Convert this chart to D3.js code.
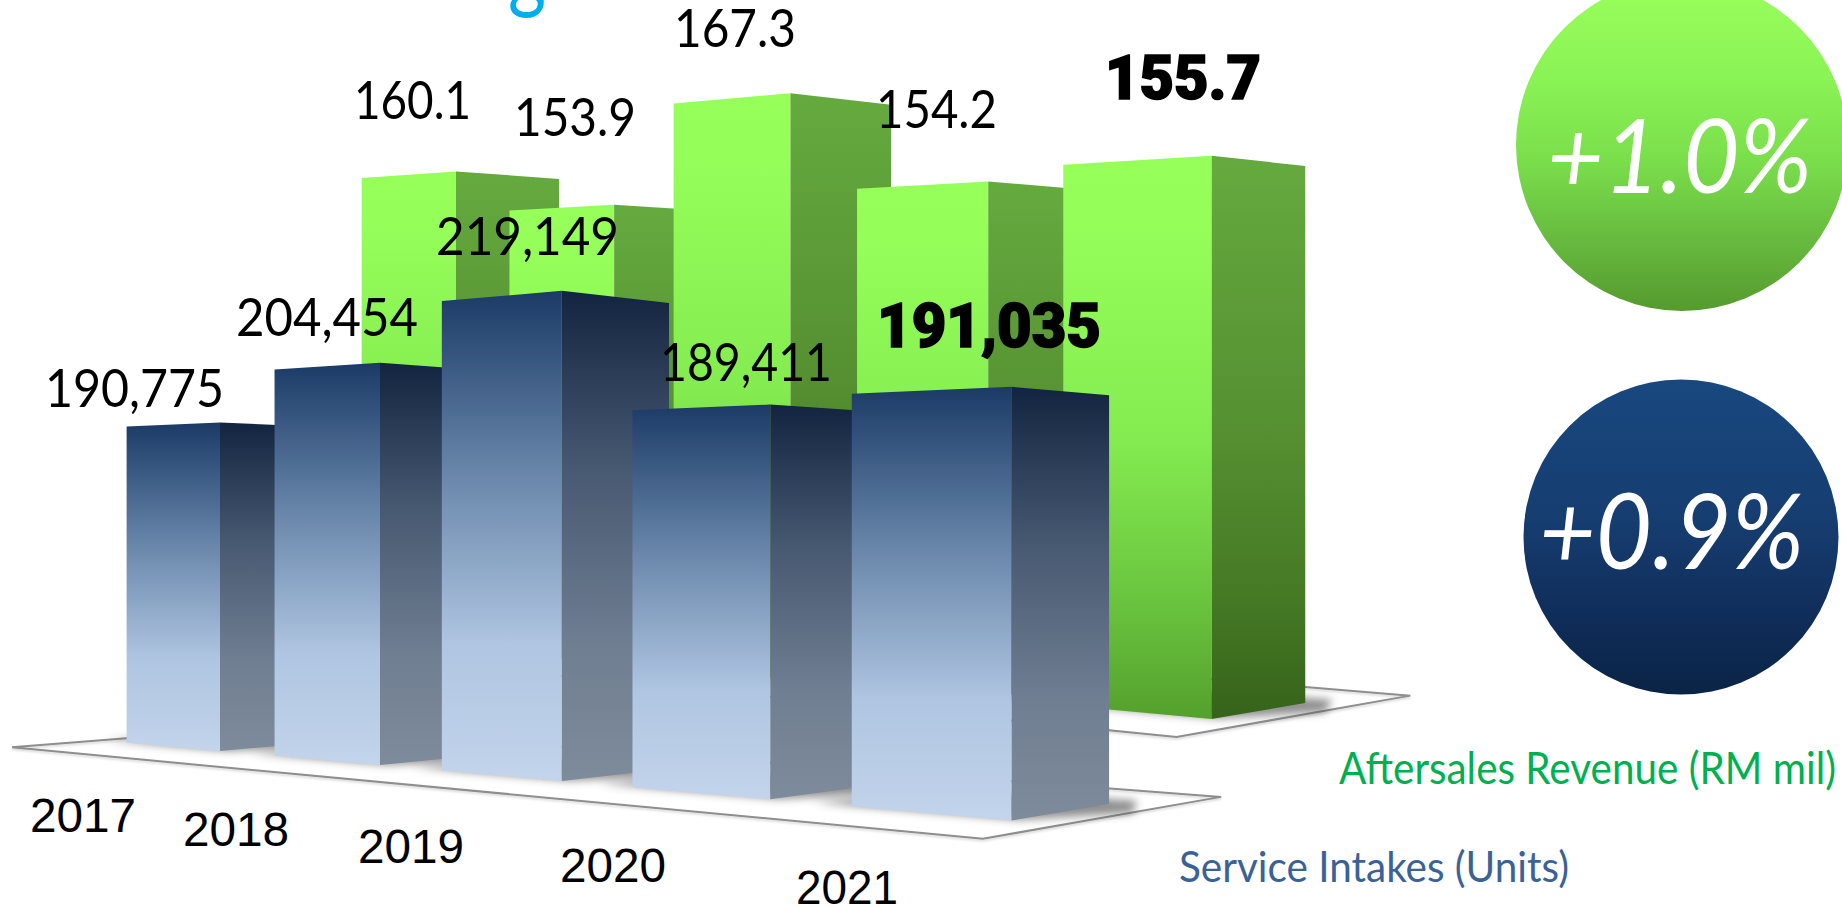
<!DOCTYPE html>
<html>
<head>
<meta charset="utf-8">
<title>Service intakes and aftersales revenue</title>
<script src="https://cdn.jsdelivr.net/npm/d3@7/dist/d3.min.js"></script>
<style>
  html, body { margin: 0; padding: 0; background: #fff; overflow: hidden; }
  svg { display: block; }
</style>
</head>
<body>
<svg id="chart" width="1842" height="908"></svg>
<script>
// Chart values
const years = ["2017", "2018", "2019", "2020", "2021"];
const serviceIntakes = [190775, 204454, 219149, 189411, 191035];
const aftersalesRevenue = [160.1, 153.9, 167.3, 154.2, 155.7];
const growthLabels = ["+1.0%", "+0.9%"];
const seriesNames = ["Aftersales Revenue (RM mil)", "Service Intakes (Units)"];
const headingTail = "g";

// Both rows share one perspective model: t runs along the row, d runs into the
// page, and h rises from the floor. Each row has its own camera placement.
const frontCamera = { x0: 220, y0: 751, a: 150.4, b: 0.06, p: 115, q: 0.046, c: 13.2, r: -10, depth: 0.645 };
const backCamera = { x0: 456, y0: 648.5, a: 150, b: 0.0515, p: 107, q: 0.0385, c: 14, r: -10.6, depth: 0.65 };

function project(cam, t, d, h = 0) {
  const w = 1 - cam.b * t + cam.q * d;
  return [cam.x0 + (cam.a * t + cam.p * d) / w, cam.y0 + (cam.c * t + cam.r * d - h) / w];
}

const slot = d3.scalePoint().domain(years).range([0, 4]);
const intakeHeight = d3.scaleLinear().domain([100000, 200000]).range([0, 362]);
const revenueHeight = d3.scaleLinear().domain([90, 167.3]).range([0, 526.1]);

const svg = d3.select("#chart");
const defs = svg.append("defs");
const polygon = pts => "M" + pts.map(p => p[0].toFixed(2) + "," + p[1].toFixed(2)).join("L") + "Z";

function addGradient(id, stops) {
  const g = defs.append("linearGradient").attr("id", id)
    .attr("x1", 0).attr("y1", 0).attr("x2", 0).attr("y2", 1);
  stops.forEach(([o, c]) => g.append("stop").attr("offset", o).attr("stop-color", c));
}
addGradient("blueFront", [[0, "#1b3a66"], [0.36, "#6684a8"], [0.72, "#afc5e1"], [1, "#c3d4eb"]]);
addGradient("blueSide", [[0, "#12243f"], [0.36, "#475871"], [0.72, "#6f7e91"], [1, "#7e8b9b"]]);
addGradient("greenFront", [[0, "#96ff5a"], [0.12, "#95fe59"], [0.5, "#84ec50"], [0.78, "#6bc63f"], [1, "#54a02d"]]);
addGradient("greenSide", [[0, "#65aa3f"], [0.5, "#558f31"], [0.78, "#467a25"], [1, "#35631a"]]);
addGradient("greenDisc", [[0, "#9aff5c"], [0.3, "#8af355"], [0.55, "#7ade4b"], [0.8, "#66b83e"], [1, "#559a2e"]]);
addGradient("blueDisc", [[0, "#18487f"], [0.45, "#163d70"], [0.75, "#102d5a"], [1, "#0a2446"]]);

defs.append("filter").attr("id", "floorShade").attr("x", "-30%").attr("y", "-80%").attr("width", "160%").attr("height", "260%")
  .append("feGaussianBlur").attr("stdDeviation", 4);
const edge = defs.append("filter").attr("id", "floorEdge").attr("x", "-5%").attr("y", "-10%").attr("width", "110%").attr("height", "120%");
edge.append("feDropShadow").attr("dx", 0).attr("dy", 1.5).attr("stdDeviation", 1).attr("flood-color", "#000").attr("flood-opacity", 0.18);

// Floor outline, contact shadows, then bar faces; later years sit in front.
function drawRow(cam, values, height, frontFill, sideFill, floor, name) {
  const g = svg.append("g").attr("class", name);
  g.append("path")
    .attr("d", polygon([
      project(cam, floor.t0, floor.d0), project(cam, floor.t1, floor.d0),
      project(cam, floor.t1, floor.d1), project(cam, floor.t0, floor.d1)
    ]))
    .attr("fill", "none").attr("stroke", "#8e8e8e").attr("stroke-width", 2)
    .attr("stroke-linejoin", "miter").attr("filter", "url(#floorEdge)");

  g.selectAll("path.shade").data(years).join("path").attr("class", "shade")
    .attr("d", y => {
      const t = slot(y);
      return polygon([
        project(cam, t - cam.depth - 0.18, 0.03), project(cam, t + 0.01, 0.05),
        project(cam, t + 0.2, 0.7), project(cam, t + 0.02, 1.25),
        project(cam, t - cam.depth, 1.1)
      ]);
    })
    .attr("fill", "#4a4a4a").attr("opacity", 0.62).attr("filter", "url(#floorShade)");

  const bars = g.selectAll("g.bar").data(years.map((y, i) => ({ y, v: values[i] }))).join("g").attr("class", "bar");
  bars.append("path").attr("fill", `url(#${frontFill})`).attr("d", d => {
    const t = slot(d.y), h = height(d.v);
    return polygon([
      project(cam, t - cam.depth, 0, h), project(cam, t, 0, h),
      project(cam, t, 0), project(cam, t - cam.depth, 0)
    ]);
  });
  bars.append("path").attr("fill", `url(#${sideFill})`).attr("d", d => {
    const t = slot(d.y), h = height(d.v);
    return polygon([
      project(cam, t, 0, h), project(cam, t, 1, h),
      project(cam, t, 1), project(cam, t, 0)
    ]);
  });
}

drawRow(backCamera, aftersalesRevenue, revenueHeight, "greenFront", "greenSide",
  { t0: -0.85, t1: 4.18, d0: -0.777, d1: 1.735 }, "revenue");
drawRow(frontCamera, serviceIntakes, intakeHeight, "blueFront", "blueSide",
  { t0: -0.84, t1: 4.19, d0: -0.74, d1: 1.73 }, "intakes");

// Text helper: every run is fitted to a set width so the narrow set of digits holds.
const sansStack = "Lato, 'Open Sans', sans-serif";
function label(parent, str, x, y, width, size, opts = {}) {
  const t = parent.append("text")
    .attr("x", x).attr("y", y)
    .attr("textLength", width).attr("lengthAdjust", "spacingAndGlyphs")
    .attr("font-size", size)
    .attr("font-weight", opts.weight || 400)
    .attr("font-style", opts.style || "normal")
    .attr("font-family", opts.family || sansStack)
    .attr("fill", opts.fill || "#000")
    .text(str);
  if (opts.stroke) t.attr("stroke", opts.fill || "#000").attr("stroke-width", opts.stroke);
  return t;
}

// Cut-off tail of the heading that runs above the frame
label(svg, headingTail, 508, 1, 38, 92, { fill: "#00aeef" });

// Value labels; the latest year is set in a heavier cut
const fmtUnits = d3.format(",");
const fmtRevenue = d3.format(".1f");
const labels = svg.append("g").attr("class", "value-labels");
const revenueSpots = [[354, 119, 117], [514, 136, 122], [674, 47, 122], [876, 128, 121], [1105, 99, 156]];
const intakeSpots = [[45, 407, 179], [236, 336, 182], [436, 255, 183], [660, 381, 172], [877, 347, 224]];
const heavy = { weight: 900, family: "Roboto, Lato, sans-serif", stroke: 1.6 };

aftersalesRevenue.forEach((v, i) => {
  const [x, y, w] = revenueSpots[i];
  const last = i === aftersalesRevenue.length - 1;
  label(labels, fmtRevenue(v), x, y, w, last ? 61 : 53, last ? heavy : {});
});
serviceIntakes.forEach((v, i) => {
  const [x, y, w] = intakeSpots[i];
  const last = i === serviceIntakes.length - 1;
  label(labels, fmtUnits(v), x, y, w, last ? 61 : 53, last ? heavy : {});
});

// Year labels along the front of the floor
const yearX = d3.scaleOrdinal(years, [30, 183, 358, 560, 796]);
const yearY = d3.scaleOrdinal(years, [832, 846, 863, 882, 904]);
const yearText = svg.append("g").attr("class", "years");
years.forEach(y => {
  label(yearText, y, yearX(y), yearY(y), y === "2021" ? 102 : 106, 48, { family: "'Liberation Sans', Arial, sans-serif" });
});

// Growth discs
const discs = svg.append("g").attr("class", "growth");
discs.append("circle").attr("cx", 1682).attr("cy", 145).attr("r", 166).attr("fill", "url(#greenDisc)");
discs.append("circle").attr("cx", 1681).attr("cy", 537).attr("r", 157.5).attr("fill", "url(#blueDisc)");
label(discs, growthLabels[0], 1547, 193, 265, 102, { style: "italic", fill: "#fff" });
label(discs, growthLabels[1], 1539, 569, 265, 104, { style: "italic", fill: "#fff" });

// Series names
label(svg, seriesNames[0], 1339, 784, 497, 45, { fill: "#00b050" });
label(svg, seriesNames[1], 1179, 882, 390, 43, { fill: "#3a6296" });
</script>
</body>
</html>
